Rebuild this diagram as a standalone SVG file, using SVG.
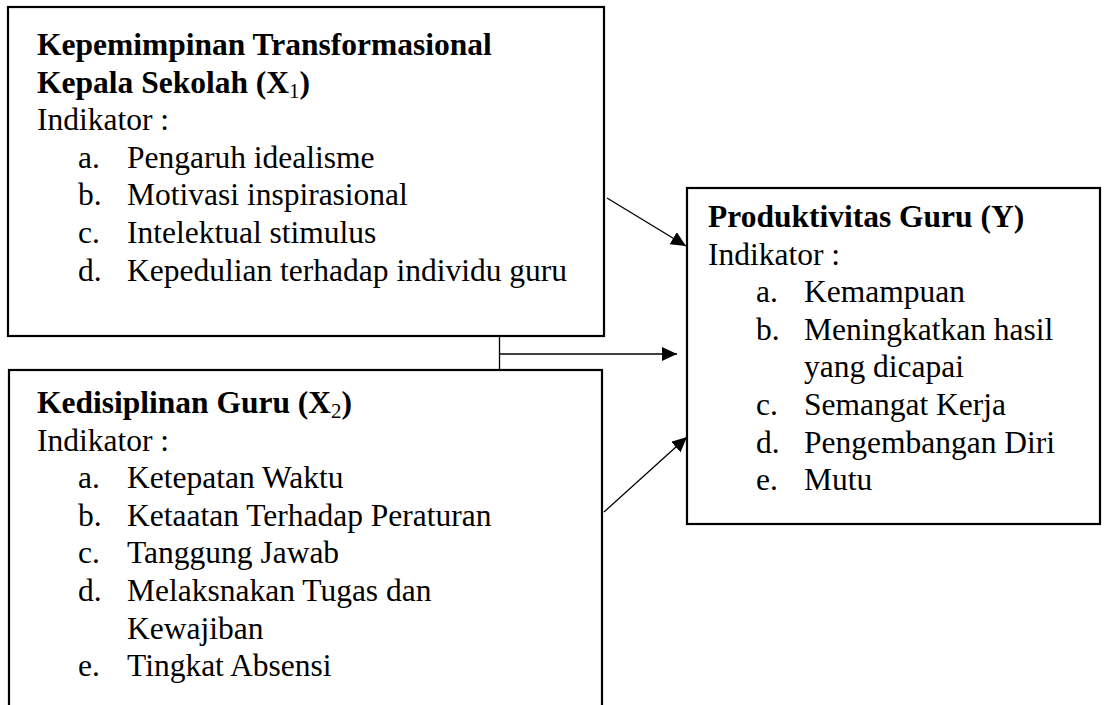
<svg xmlns="http://www.w3.org/2000/svg" width="1105" height="705" viewBox="0 0 1105 705">
<style>
.box{fill:#fff;stroke:#000;stroke-width:2.2}
.t{font-family:'Liberation Serif','Times New Roman',serif;font-size:31.5px;fill:#000}
.b{font-weight:bold}
.c{stroke:#000;stroke-width:1.3;fill:none}
.sub{font-size:21px;font-weight:normal}
</style>
<defs>
<marker id="ah" markerUnits="userSpaceOnUse" markerWidth="16" markerHeight="15" refX="15" refY="7" orient="auto">
<path d="M0,0 L15,7 L0,14 z" fill="#000"/>
</marker>
</defs>
<rect width="1105" height="705" fill="#fff"/>
<g id="node-x1">
<rect class="box" x="8" y="7" width="596" height="329"/>
<g class="t">
<text class="b" x="37" y="55">Kepemimpinan Transformasional</text>
<text class="b" x="37" y="92.6">Kepala Sekolah (X<tspan class="sub" dy="5">1</tspan><tspan dy="-5">)</tspan></text>
<text x="37" y="130.2">Indikator :</text>
<text x="78" y="167.8">a.</text><text x="127" y="167.8">Pengaruh idealisme</text>
<text x="78" y="205.4">b.</text><text x="127" y="205.4">Motivasi inspirasional</text>
<text x="78" y="243">c.</text><text x="127" y="243">Intelektual stimulus</text>
<text x="78" y="280.6">d.</text><text x="127" y="280.6">Kepedulian terhadap individu guru</text>
</g>
</g>
<g id="node-x2">
<rect class="box" x="9" y="370" width="593" height="350"/>
<g class="t">
<text class="b" x="37" y="413">Kedisiplinan Guru (X<tspan class="sub" dy="5">2</tspan><tspan dy="-5">)</tspan></text>
<text x="37" y="450.6">Indikator :</text>
<text x="78" y="488.2">a.</text><text x="127" y="488.2">Ketepatan Waktu</text>
<text x="78" y="525.8">b.</text><text x="127" y="525.8">Ketaatan Terhadap Peraturan</text>
<text x="78" y="563.4">c.</text><text x="127" y="563.4">Tanggung Jawab</text>
<text x="78" y="601">d.</text><text x="127" y="601">Melaksnakan Tugas dan</text>
<text x="127" y="638.6">Kewajiban</text>
<text x="78" y="676.2">e.</text><text x="127" y="676.2">Tingkat Absensi</text>
</g>
</g>
<g id="node-y">
<rect class="box" x="687" y="188" width="413" height="336"/>
<g class="t">
<text class="b" x="708" y="227">Produktivitas Guru (Y)</text>
<text x="708" y="264.6">Indikator :</text>
<text x="756" y="302.2">a.</text><text x="804" y="302.2">Kemampuan</text>
<text x="756" y="339.8">b.</text><text x="804" y="339.8">Meningkatkan hasil</text>
<text x="804" y="377.4">yang dicapai</text>
<text x="756" y="415">c.</text><text x="804" y="415">Semangat Kerja</text>
<text x="756" y="452.6">d.</text><text x="804" y="452.6">Pengembangan Diri</text>
<text x="756" y="490.2">e.</text><text x="804" y="490.2">Mutu</text>
</g>
</g>
<g id="connectors">
<line class="c" x1="607" y1="198" x2="686" y2="246" marker-end="url(#ah)"/>
<line class="c" x1="499.5" y1="336" x2="499.5" y2="370"/>
<line class="c" x1="500" y1="354" x2="677" y2="354" marker-end="url(#ah)"/>
<line class="c" x1="604" y1="512" x2="687" y2="437" marker-end="url(#ah)"/>
</g>
</svg>
